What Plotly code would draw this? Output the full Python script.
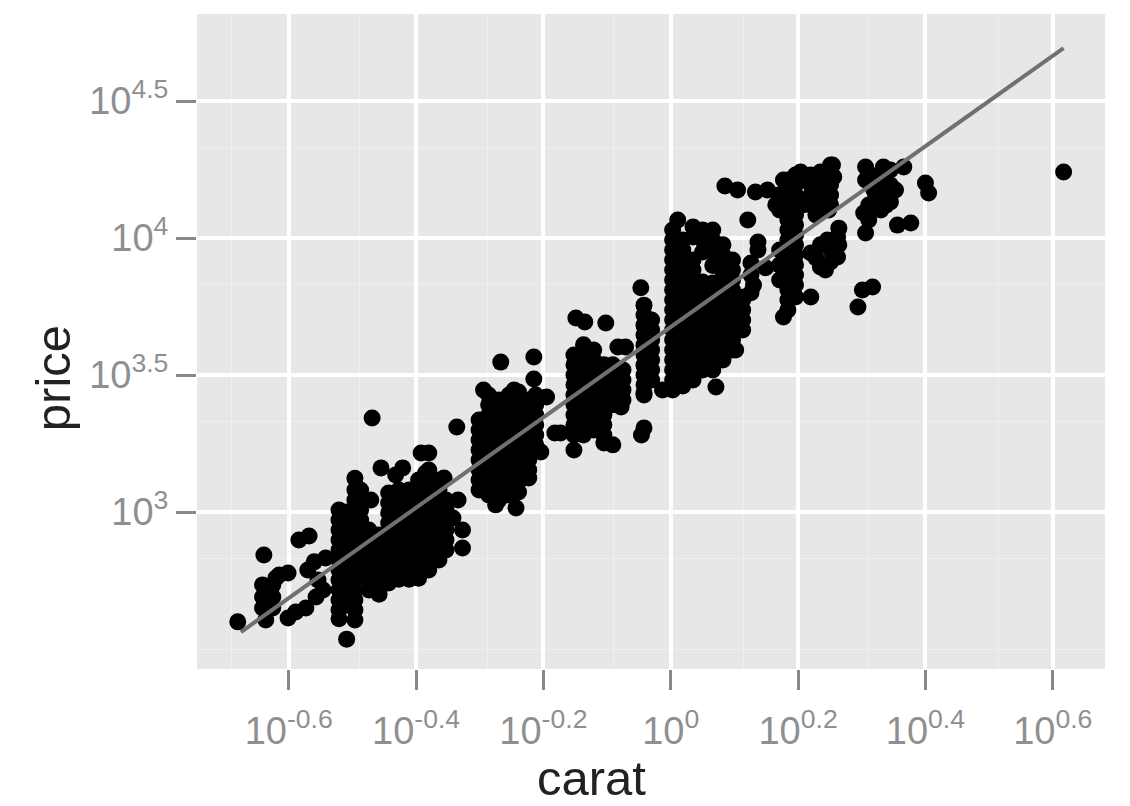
import plotly.graph_objects as go

# log10(carat) of each vertical run of diamonds, and log10(price) of the diamonds in it
column_carat = [-0.521, -0.509, -0.496, -0.487,
                -0.474, -0.458, -0.443, -0.427, -0.411, -0.396, -0.380, -0.364, -0.353,
                -0.301, -0.286, -0.270, -0.254, -0.239, -0.223, -0.212,
                -0.152, -0.137, -0.121, -0.105, -0.091, -0.075, -0.042, -0.030,
                0.003, 0.019, 0.035, 0.050, 0.066, 0.082, 0.097, 0.113,
                0.171, 0.184, 0.196, 0.220, 0.235, 0.251]
column_price = [
    [3.007, 2.971, 2.934, 2.898, 2.861, 2.825, 2.788, 2.752, 2.715, 2.679, 2.642, 2.610],
    [3.000, 2.971, 2.934, 2.898, 2.861, 2.825, 2.788, 2.752, 2.715, 2.679],
    [3.123, 3.080, 3.044, 3.007, 2.971, 2.934, 2.898, 2.861, 2.825, 2.788, 2.752, 2.715, 2.679, 2.642, 2.606],
    [3.080, 3.044, 3.007, 2.971, 2.934, 2.898, 2.861, 2.825, 2.788],
    [2.934, 2.898, 2.861, 2.825, 2.788, 2.752, 2.715],
    [2.916, 2.879, 2.843, 2.806, 2.770, 2.733, 2.700],
    [3.069, 3.033, 2.996, 2.960, 2.923, 2.887, 2.850, 2.814, 2.777, 2.741],
    [3.080, 3.044, 3.007, 2.971, 2.934, 2.898, 2.861, 2.825, 2.788, 2.755],
    [3.080, 3.044, 3.007, 2.971, 2.934, 2.898, 2.861, 2.825, 2.788, 2.755],
    [3.117, 3.080, 3.044, 3.007, 2.971, 2.934, 2.898, 2.861, 2.825, 2.788, 2.758],
    [3.153, 3.117, 3.080, 3.044, 3.007, 2.971, 2.934, 2.898, 2.861, 2.825, 2.788],
    [3.117, 3.080, 3.044, 3.007, 2.971, 2.934, 2.898, 2.861, 2.825],
    [3.007, 2.971, 2.934, 2.898, 2.861],
    [3.336, 3.299, 3.263, 3.226, 3.190, 3.153, 3.117, 3.080],
    [3.427, 3.391, 3.354, 3.318, 3.281, 3.245, 3.208, 3.172, 3.135, 3.099, 3.062],
    [3.409, 3.372, 3.336, 3.299, 3.263, 3.226, 3.190, 3.153, 3.117, 3.080, 3.044],
    [3.427, 3.391, 3.354, 3.318, 3.281, 3.245, 3.208, 3.172, 3.135, 3.099, 3.062],
    [3.438, 3.402, 3.365, 3.329, 3.292, 3.256, 3.219, 3.183, 3.146, 3.110, 3.073],
    [3.409, 3.372, 3.336, 3.299, 3.263, 3.226, 3.190, 3.153],
    [3.427, 3.391, 3.354, 3.318, 3.281, 3.245],
    [3.573, 3.537, 3.500, 3.464, 3.427, 3.391, 3.354, 3.318, 3.281],
    [3.610, 3.573, 3.537, 3.500, 3.464, 3.427, 3.391, 3.354, 3.318, 3.281],
    [3.591, 3.555, 3.518, 3.482, 3.445, 3.409, 3.372, 3.336, 3.299],
    [3.537, 3.500, 3.464, 3.427, 3.391, 3.354, 3.318, 3.281],
    [3.537, 3.500, 3.464, 3.427, 3.391],
    [3.518, 3.482, 3.445, 3.409],
    [3.755, 3.719, 3.682, 3.646, 3.609, 3.573, 3.536, 3.500, 3.464, 3.427],
    [3.701, 3.664, 3.628, 3.591, 3.555, 3.518, 3.482],
    [4.029, 3.993, 3.956, 3.920, 3.883, 3.847, 3.810, 3.774, 3.737, 3.701, 3.664, 3.628, 3.591, 3.555, 3.518, 3.482, 3.460],
    [3.993, 3.956, 3.905, 3.883, 3.847, 3.810, 3.774, 3.737, 3.701, 3.664, 3.628, 3.591, 3.555, 3.518, 3.482, 3.460],
    [4.040, 4.004, 3.920, 3.883, 3.847, 3.810, 3.774, 3.737, 3.701, 3.664, 3.628, 3.591, 3.555, 3.518, 3.482],
    [4.029, 3.993, 3.949, 3.839, 3.810, 3.774, 3.737, 3.701, 3.664, 3.628, 3.591, 3.555, 3.518],
    [4.029, 3.993, 3.949, 3.900, 3.836, 3.810, 3.774, 3.737, 3.701, 3.664, 3.628, 3.591, 3.555, 3.518],
    [3.975, 3.938, 3.900, 3.860, 3.810, 3.774, 3.737, 3.701, 3.664, 3.628, 3.591, 3.555],
    [3.920, 3.883, 3.847, 3.810, 3.774, 3.737, 3.701, 3.664, 3.628, 3.591],
    [3.774, 3.737, 3.701, 3.664],
    [4.102, 3.956, 3.901, 3.847],
    [4.212, 4.175, 4.139, 4.102, 4.066, 4.029, 3.993, 3.956, 3.920, 3.883, 3.847, 3.810, 3.774, 3.737],
    [4.230, 4.194, 4.157, 4.121, 4.084, 4.048, 4.011, 3.975, 3.938, 3.902, 3.865, 3.829, 3.785],
    [4.230, 4.194, 4.157, 4.121],
    [4.241, 4.205, 4.168, 4.132, 4.095],
    [4.266, 4.230, 4.194, 4.157, 4.121],
]

# Single diamonds away from the runs above
single_carat = [-0.680, -0.469, -0.509, -0.639, -0.641, -0.641, -0.641, -0.625, -0.625, -0.625, -0.601, -0.615,
                -0.636, -0.601, -0.589, -0.573, -0.557, -0.546, -0.584, -0.568, -0.560, -0.570, -0.542, -0.554,
                -0.471, -0.455, -0.432, -0.421, -0.380, -0.392, -0.385, -0.356, -0.342, -0.327, -0.327, -0.334,
                -0.353, -0.336, -0.267, -0.215, -0.215, -0.195, -0.182, -0.173, -0.204, -0.294, -0.275, -0.243,
                -0.223, -0.246, -0.149, -0.135, -0.102, -0.083, -0.071, -0.047, -0.042, -0.046, -0.152, -0.105,
                -0.091, -0.115, -0.078, -0.042, 0.003, -0.013, 0.071, 0.102, 0.130, 0.137, 0.149, 0.115, 0.105,
                0.011, 0.126, 0.126, 0.126, 0.085, 0.105, 0.121, 0.133, 0.152, 0.177, 0.204, 0.177, 0.220, 0.264,
                0.246, 0.262, 0.262, 0.235, 0.220, 0.254, 0.256, 0.306, 0.334, 0.366, 0.306, 0.319, 0.330, 0.345,
                0.345, 0.319, 0.303, 0.306, 0.356, 0.377, 0.400, 0.405, 0.317, 0.301, 0.294, 0.617, 0.330, 0.314,
                0.209, 0.209, 0.228, 0.248, 0.165, 0.170, 0.235, 0.228, 0.251, 0.251, 0.264, 0.243, 0.137,
                0.319, 0.345, 0.322, 0.338, 0.311, 0.353, 0.330, 0.311,
                -0.631, -0.631, -0.620]
single_price = [2.599, 3.343, 2.536, 2.843, 2.734, 2.690, 2.650, 2.734, 2.690, 2.650, 2.777, 2.770,
                2.606, 2.613, 2.635, 2.650, 2.690, 2.715, 2.898, 2.912, 2.818, 2.788, 2.832, 2.752,
                3.044, 3.161, 3.135, 3.161, 3.215, 3.215, 3.142, 3.124, 2.978, 2.934, 2.869, 3.044,
                3.044, 3.310, 3.547, 3.566, 3.485, 3.420, 3.288, 3.288, 3.219, 3.445, 3.026, 3.015,
                3.124, 3.445, 3.708, 3.693, 3.690, 3.602, 3.602, 3.818, 3.307, 3.281, 3.226, 3.252,
                3.245, 3.299, 3.383, 3.434, 3.445, 3.445, 3.456, 3.591, 3.828, 3.985, 3.891, 3.785, 3.675,
                4.066, 3.909, 3.865, 3.800, 4.190, 4.175, 4.066, 4.168, 4.175, 4.212, 4.241, 3.712, 3.785, 4.036,
                3.993, 4.004, 3.931, 3.894, 3.945, 4.266, 4.223, 4.259, 4.259, 4.259, 4.212, 4.175, 4.212, 4.193,
                4.131, 4.128, 4.091, 4.018, 4.047, 4.055, 4.201, 4.164, 3.821, 3.810, 3.748, 4.241, 4.157, 4.230,
                4.212, 4.121, 4.084, 4.102, 4.121, 4.157, 3.975, 3.927, 3.956, 3.912, 3.975, 3.883, 3.956,
                4.219, 4.248, 4.157, 4.120, 4.120, 4.175, 4.102, 4.066,
                2.715, 2.667, 2.759]

# Fitted line end points
fit_carat = [-0.675, 0.617]
fit_price = [2.562, 4.693]

x_tick_exponents = [-0.6, -0.4, -0.2, 0, 0.2, 0.4, 0.6]
x_tick_labels = ["10<sup>-0.6</sup>", "10<sup>-0.4</sup>", "10<sup>-0.2</sup>", "10<sup>0</sup>",
                 "10<sup>0.2</sup>", "10<sup>0.4</sup>", "10<sup>0.6</sup>"]
y_tick_exponents = [3, 3.5, 4, 4.5]
y_tick_labels = ["10<sup>3</sup>", "10<sup>3.5</sup>", "10<sup>4</sup>", "10<sup>4.5</sup>"]
x_minor_exponents = [-0.69, -0.489, -0.287, -0.09, 0.115, 0.31, 0.515]
y_minor_exponents = [2.5, 2.83, 3.33, 3.83, 4.33]

xs, ys = [], []
for c, prices in zip(column_carat, column_price):
    for p in prices:
        xs.append(10 ** c)
        ys.append(10 ** p)
xs += [10 ** c for c in single_carat]
ys += [10 ** p for p in single_price]

TICK_GREY = "#8f8f8f"
FONT = "Liberation Sans"

fig = go.Figure()
fig.add_trace(go.Scatter(x=xs, y=ys, mode="markers",
                         marker=dict(color="black", size=17, line=dict(width=0)), showlegend=False))
fig.add_trace(go.Scatter(x=[10 ** v for v in fit_carat], y=[10 ** v for v in fit_price], mode="lines",
                         line=dict(color="#707070", width=4), showlegend=False))


def axis(tickvals, ticktext, minorvals, rng, label_standoff):
    return dict(
        type="log", range=rng, tickmode="array",
        tickvals=[10 ** v for v in tickvals], ticktext=ticktext,
        ticks="outside", ticklen=20, tickwidth=3, tickcolor="#888888",
        ticklabelstandoff=label_standoff,
        tickfont=dict(family=FONT, size=38, color=TICK_GREY),
        showgrid=True, gridcolor="white", gridwidth=3.5, zeroline=False, showline=False,
        minor=dict(tickmode="array", tickvals=[10 ** v for v in minorvals], showgrid=True,
                   gridcolor="#f0f0f0", gridwidth=1, ticks=""),
        automargin=False,
    )


fig.update_layout(
    width=1122, height=798, autosize=False,
    margin=dict(l=189, r=25, t=6, b=137),
    paper_bgcolor="white", plot_bgcolor="#e7e7e7",
    xaxis=axis(x_tick_exponents, x_tick_labels, x_minor_exponents, [-0.744, 0.682], 8),
    yaxis=axis(y_tick_exponents, y_tick_labels, y_minor_exponents, [2.427, 4.8175], 0),
    annotations=[
        dict(text="carat", xref="paper", yref="paper", x=0.435, y=-0.166, showarrow=False,
             xanchor="center", yanchor="middle", font=dict(family=FONT, size=49, color="#222222")),
        dict(text="price", xref="paper", yref="paper", x=-0.1586, y=0.444, showarrow=False, textangle=-90,
             xanchor="center", yanchor="middle", font=dict(family=FONT, size=49, color="#222222")),
    ],
)
fig.write_html("out.html")
